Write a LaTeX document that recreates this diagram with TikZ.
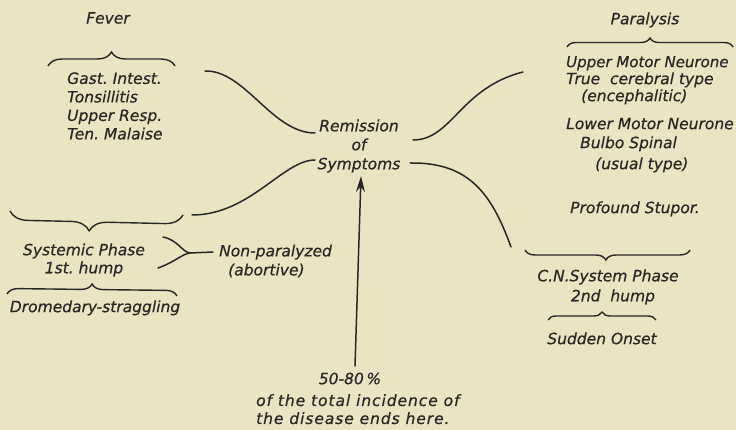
\documentclass[tikz,border=0pt]{standalone}
\usepackage{fontspec}
\newfontfamily\hand{DejaVu Sans}[ItalicFeatures={FakeBold=0.6}]
\newfontfamily\handwide{DejaVu Sans}[ItalicFeatures={FakeBold=0.6,LetterSpace=6}]
\usetikzlibrary{arrows.meta,decorations.pathreplacing}
\definecolor{paper}{RGB}{235,228,194}
\definecolor{ink}{RGB}{42,40,38}
\frenchspacing
\begin{document}
\begin{tikzpicture}[x=1pt,y=-1pt,
  lbl/.style={font=\hand\itshape\fontsize{15.5}{18.5}\selectfont, text=ink, inner sep=0pt},
  conn/.style={draw=ink, line width=1.5pt, line cap=round},
  brc/.style={draw=ink, line width=1.4pt, decorate, decoration={brace, amplitude=#1}},
  brc/.default=10pt]
\useasboundingbox[fill=paper] (0,0) rectangle (736,430);
% texts
\node[lbl] (fever) at (108,18) {Fever};
\node[lbl, anchor=west, align=left] (fevlist) at (67,106) {Gast. Intest.\\Tonsillitis\\Upper Resp.\\Ten. Malaise};
\node[lbl, align=center, font=\hand\itshape\fontsize{15.5}{19}\selectfont] (rem) at (359,146) {Remission\\of\\Symptoms};
\node[lbl] (par) at (645,20) {Paralysis};
\node[lbl, anchor=mid west, font=\hand\itshape\fontsize{15}{18}\selectfont] (umn) at (566,65) {Upper Motor Neurone};
\node[lbl, anchor=mid west] (tct) at (566,82) {True\ \ cerebral type};
\node[lbl, anchor=mid west] (enc) at (581,99) {(encephalitic)};
\node[lbl, anchor=mid west] (lmn) at (566,127) {Lower Motor Neurone};
\node[lbl, anchor=mid west] (bulbo) at (580,146) {Bulbo Spinal};
\node[lbl, anchor=mid west] (usual) at (595,167) {(usual type)};
\node[lbl, anchor=mid west] (stupor) at (570,211) {Profound Stupor.};
\node[lbl, align=center, font=\hand\itshape\fontsize{15.5}{18}\selectfont] (sys) at (84,260) {Systemic Phase\\1st. hump};
\node[lbl, anchor=west, align=left, font=\hand\itshape\fontsize{15.5}{19}\selectfont] (nonpar) at (219,261) {Non-paralyzed\\\hspace*{9pt}(abortive)};
\node[lbl, anchor=mid] (drom) at (95,310) {Dromedary-straggling};
\node[lbl, align=center, font=\hand\itshape\fontsize{15.5}{20}\selectfont] (cns) at (608,287) {C.N.System Phase\\\hspace*{10pt}2nd\ \ hump};
\node[lbl, anchor=mid] (sudden) at (602,342) {Sudden Onset};
\node[lbl, anchor=mid] (pct) at (350,382) {50-80\,\%};
\node[lbl, anchor=north west, align=left, font=\handwide\itshape\fontsize{15.5}{18}\selectfont] (inc) at (256,394) {of the total incidence of\\the disease ends here.};
% braces
\draw[brc=14pt] (48,66) -- (175,66);
\draw[brc=9pt] (567,47) -- (733,47);
\draw[brc=18pt, decoration={aspect=0.54}] (183,215) -- (10,211);
\draw[brc=11pt] (7,294) -- (177,296);
\draw[brc=10pt, decoration={aspect=0.51}] (690,250) -- (525,250);
\draw[brc=8pt] (548,320) -- (656,320);
% connector end points
\coordinate (a1) at (205,71);
\coordinate (a2) at (315,133);
\coordinate (b1) at (413,140);
\coordinate (b2) at (523,72);
\coordinate (d1) at (315,160);
\coordinate (d2) at (192,215);
\coordinate (e1) at (410,163);
\coordinate (e2) at (511,247);
\coordinate (g1) at (163,237);
\coordinate (g2) at (158,268);
\coordinate (gm) at (190,253);
\coordinate (g3) at (213,252);
\coordinate (arrbot) at (355,366);
\coordinate (arrtop) at (361,176);
% connectors
\draw[conn] (a1) .. controls (245,70) and (272,133) .. (a2);
\draw[conn] (b1) .. controls (452,140) and (460,88) .. (b2);
\draw[conn] (d1) .. controls (283,160) and (250,215) .. (d2);
\draw[conn] (e1) .. controls (470,162) and (492,195) .. (e2);
\draw[conn] (g1) .. controls (178,240) and (182,252) .. (gm);
\draw[conn] (g2) .. controls (175,262) and (182,254) .. (gm);
\draw[conn] (gm) -- (g3);
\draw[conn, -{Stealth[length=16pt,width=9pt]}] (arrbot) -- (arrtop);
\end{tikzpicture}
\end{document}
